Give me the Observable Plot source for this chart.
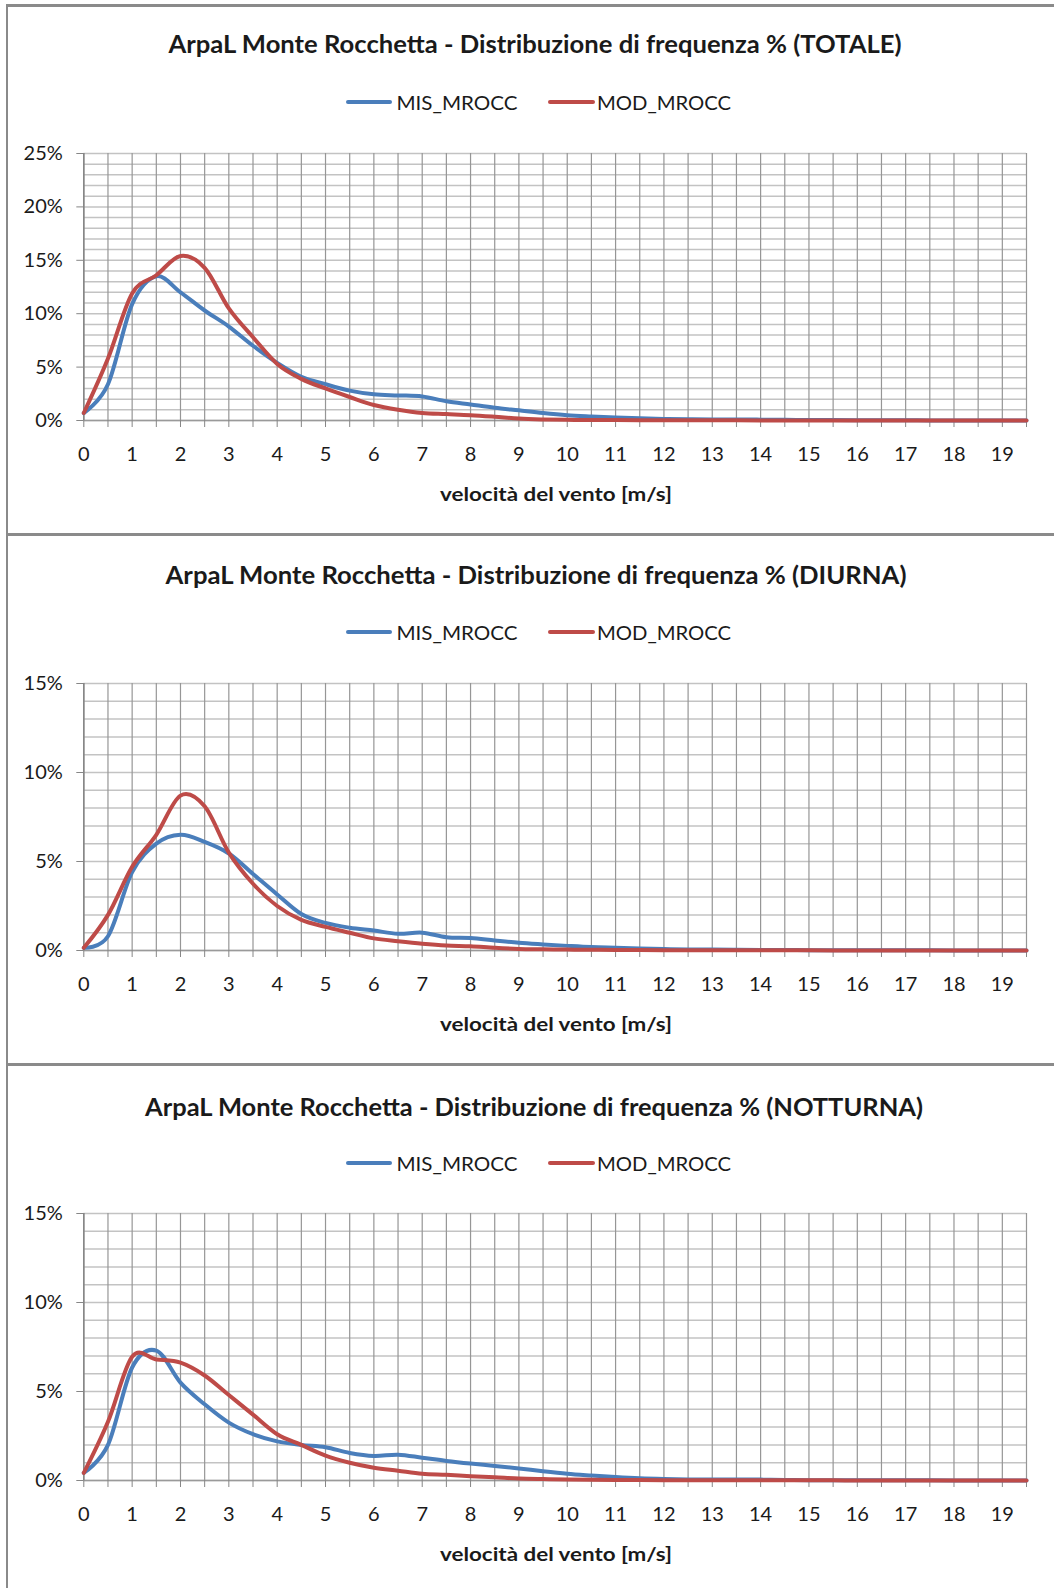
<!DOCTYPE html>
<html><head><meta charset="utf-8">
<script src="https://cdn.jsdelivr.net/npm/d3@7"></script>
<script src="https://cdn.jsdelivr.net/npm/@observablehq/plot@0.6"></script>
<style>
body{margin:0;background:#fff;}
#page{position:relative;width:1054px;height:1588px;overflow:hidden;font-family:Lato,"Open Sans",sans-serif;color:#1a1a1a;background:#fff;}
.hl{position:absolute;left:6px;width:1060px;height:3px;background:#8a8a8a;}
.vl{position:absolute;left:6px;top:4px;width:2px;height:1600px;background:#8a8a8a;}
.t{position:absolute;white-space:nowrap;line-height:1;transform-origin:50% 50%;}
.sw{position:absolute;height:4px;border-radius:2px;}
.chart{position:absolute;left:0;}
</style></head><body><div id="page"></div>
<script>
// ---- data (wind speed classes in m/s, frequency %) ----
const speeds = [0,0.5,1,1.5,2,2.5,3,3.5,4,4.5,5,5.5,6,6.5,7,7.5,8,8.5,9,9.5,10,10.5,11,11.5,12,12.5,13,13.5,14,14.5,15,15.5,16,16.5,17,17.5,18,18.5,19,19.5];
const xTickLabels = [0,1,2,3,4,5,6,7,8,9,10,11,12,13,14,15,16,17,18,19];
const seriesNames = ["MIS_MROCC", "MOD_MROCC"];

const misTot = [0.7,3.4,10.9,13.5,12.0,10.3,8.8,7.0,5.4,4.1,3.4,2.8,2.45,2.35,2.25,1.8,1.5,1.2,0.95,0.7,0.5,0.38,0.28,0.2,0.15,0.12,0.1,0.09,0.08,0.06,0.05,0.04,0.03,0.02,0.02,0.01,0.01,0.01,0.01,0.0];
const modTot = [0.7,5.8,11.9,13.6,15.4,14.3,10.5,7.8,5.3,3.9,3.0,2.2,1.45,1.0,0.7,0.6,0.5,0.35,0.18,0.1,0.06,0.05,0.04,0.03,0.03,0.02,0.02,0.02,0.01,0.01,0.01,0.01,0.01,0,0,0,0,0,0,0];
const misDiu = [0.15,0.8,4.4,6.0,6.5,6.1,5.45,4.3,3.15,2.05,1.55,1.28,1.12,0.94,1.0,0.75,0.7,0.56,0.43,0.34,0.26,0.19,0.15,0.11,0.08,0.06,0.05,0.04,0.03,0.03,0.02,0.02,0.01,0.01,0.01,0.01,0,0,0,0];
const modDiu = [0.15,2.0,4.7,6.5,8.7,8.1,5.5,3.75,2.5,1.72,1.33,1.0,0.68,0.52,0.38,0.28,0.24,0.15,0.09,0.07,0.05,0.04,0.03,0.03,0.02,0.02,0.01,0.01,0.01,0.01,0.01,0,0,0,0,0,0,0,0,0];
const misNot = [0.43,2.0,6.35,7.3,5.5,4.28,3.25,2.6,2.2,2.0,1.87,1.55,1.38,1.45,1.28,1.1,0.95,0.82,0.68,0.52,0.38,0.28,0.19,0.12,0.08,0.06,0.05,0.05,0.05,0.03,0.02,0.02,0.01,0.01,0.01,0.01,0,0,0,0];
const modNot = [0.43,3.3,6.95,6.8,6.62,5.9,4.8,3.7,2.6,2.0,1.4,1.0,0.72,0.55,0.38,0.32,0.24,0.18,0.11,0.08,0.06,0.04,0.03,0.03,0.02,0.02,0.02,0.01,0.01,0.01,0.01,0.01,0,0,0,0,0,0,0,0];

const titles = [
  "ArpaL Monte Rocchetta - Distribuzione di frequenza % (TOTALE)",
  "ArpaL Monte Rocchetta - Distribuzione di frequenza % (DIURNA)",
  "ArpaL Monte Rocchetta - Distribuzione di frequenza % (NOTTURNA)"
];
const xLabel = "velocità del vento [m/s]";
const yMaxes = [25, 15, 15];
const yTickLabelsTot = [0,5,10,15,20,25];
const yTickLabels15 = [0,5,10,15];

const BLUE = "#4a7ebb", RED = "#be4b48";
const page = document.getElementById("page");

function addText(str, cx, cy, w, size, weight) {
  const el = document.createElement("div");
  el.className = "t";
  el.textContent = str;
  el.style.fontSize = size + "px";
  el.style.fontWeight = weight;
  el.style.left = cx + "px";
  el.style.top = cy + "px";
  page.appendChild(el);
  const actual = el.getBoundingClientRect().width;
  const s = w / actual;
  el.style.transform = `translate(-50%,-50%) scaleX(${s})`;
}
function addSwatch(x1, x2, cy, color) {
  const el = document.createElement("div");
  el.className = "sw";
  el.style.left = x1 + "px";
  el.style.width = (x2 - x1) + "px";
  el.style.top = (cy - 2) + "px";
  el.style.background = color;
  page.appendChild(el);
}

function chart(mis, mod, ymax, yTicks) {
  const a = speeds.map((x, i) => ({x, y: mis[i], s: seriesNames[0]}));
  const b = speeds.map((x, i) => ({x, y: mod[i], s: seriesNames[1]}));
  const yGrid = d3.range(0, ymax + 0.5, 1);
  return Plot.plot({
    width: 1054, height: 530,
    marginLeft: 83.3, marginRight: 28, marginTop: 147, marginBottom: 116,
    x: {domain: [0, 19.5], label: null},
    y: {domain: [0, ymax], label: null},
    style: {fontFamily: "Lato, sans-serif", fontSize: "20px", color: "#1a1a1a", background: "transparent", overflow: "visible"},
    marks: [
      Plot.gridY(yGrid, {stroke: "#c3c3c3", strokeOpacity: 1, strokeWidth: 1.5}),
      Plot.gridX(speeds, {stroke: "#969696", strokeOpacity: 1, strokeWidth: 1.2}),
      Plot.ruleY([0], {stroke: "#9a9a9a", strokeWidth: 1.5}),
      Plot.ruleX([0], {stroke: "#868686", strokeWidth: 1.5}),
      Plot.axisX(speeds, {tickSize: 7, tickFormat: () => "", stroke: "#868686", label: null}),
      Plot.axisX(xTickLabels, {tickSize: 0, tickPadding: 26, label: null, fontSize: 20}),
      Plot.axisY(yTicks, {tickSize: 7, tickPadding: 14, tickFormat: d => d + "%", stroke: "#868686", label: null, fontSize: 20}),
      Plot.line(a, {x: "x", y: "y", stroke: BLUE, strokeWidth: 4, curve: "cardinal"}),
      Plot.line(b, {x: "x", y: "y", stroke: RED, strokeWidth: 4, curve: "cardinal"})
    ]
  });
}

// panel frame lines
[4, 533, 1063].forEach(y => {
  const d = document.createElement("div"); d.className = "hl"; d.style.top = y + "px"; page.appendChild(d);
});
const vl = document.createElement("div"); vl.className = "vl"; page.appendChild(vl);

const panels = [
  {svgTop: 5.7, mis: misTot, mod: modTot, ymax: yMaxes[0], ticks: yTickLabelsTot, title: titles[0], tcx: 534.5, tcy: 43.5, tw: 733, lcy: 101.6},
  {svgTop: 535.7, mis: misDiu, mod: modDiu, ymax: yMaxes[1], ticks: yTickLabels15, title: titles[1], tcx: 535.5, tcy: 575, tw: 741, lcy: 632},
  {svgTop: 1065.7, mis: misNot, mod: modNot, ymax: yMaxes[2], ticks: yTickLabels15, title: titles[2], tcx: 533.5, tcy: 1107, tw: 778, lcy: 1163}
];

panels.forEach(p => {
  const svg = chart(p.mis, p.mod, p.ymax, p.ticks);
  svg.classList.add("chart");
  svg.style.top = p.svgTop + "px";
  page.appendChild(svg);
  addText(p.title, p.tcx, p.tcy, p.tw, 24, 700);
  addSwatch(346, 392, p.lcy, BLUE);
  addText(seriesNames[0], 457, p.lcy, 121, 19, 400);
  addSwatch(548, 595, p.lcy, RED);
  addText(seriesNames[1], 664, p.lcy, 134, 19, 400);
  addText(xLabel, 556, p.svgTop + 530 - 116 + 73, 232, 19, 700);
});
</script></body></html>
